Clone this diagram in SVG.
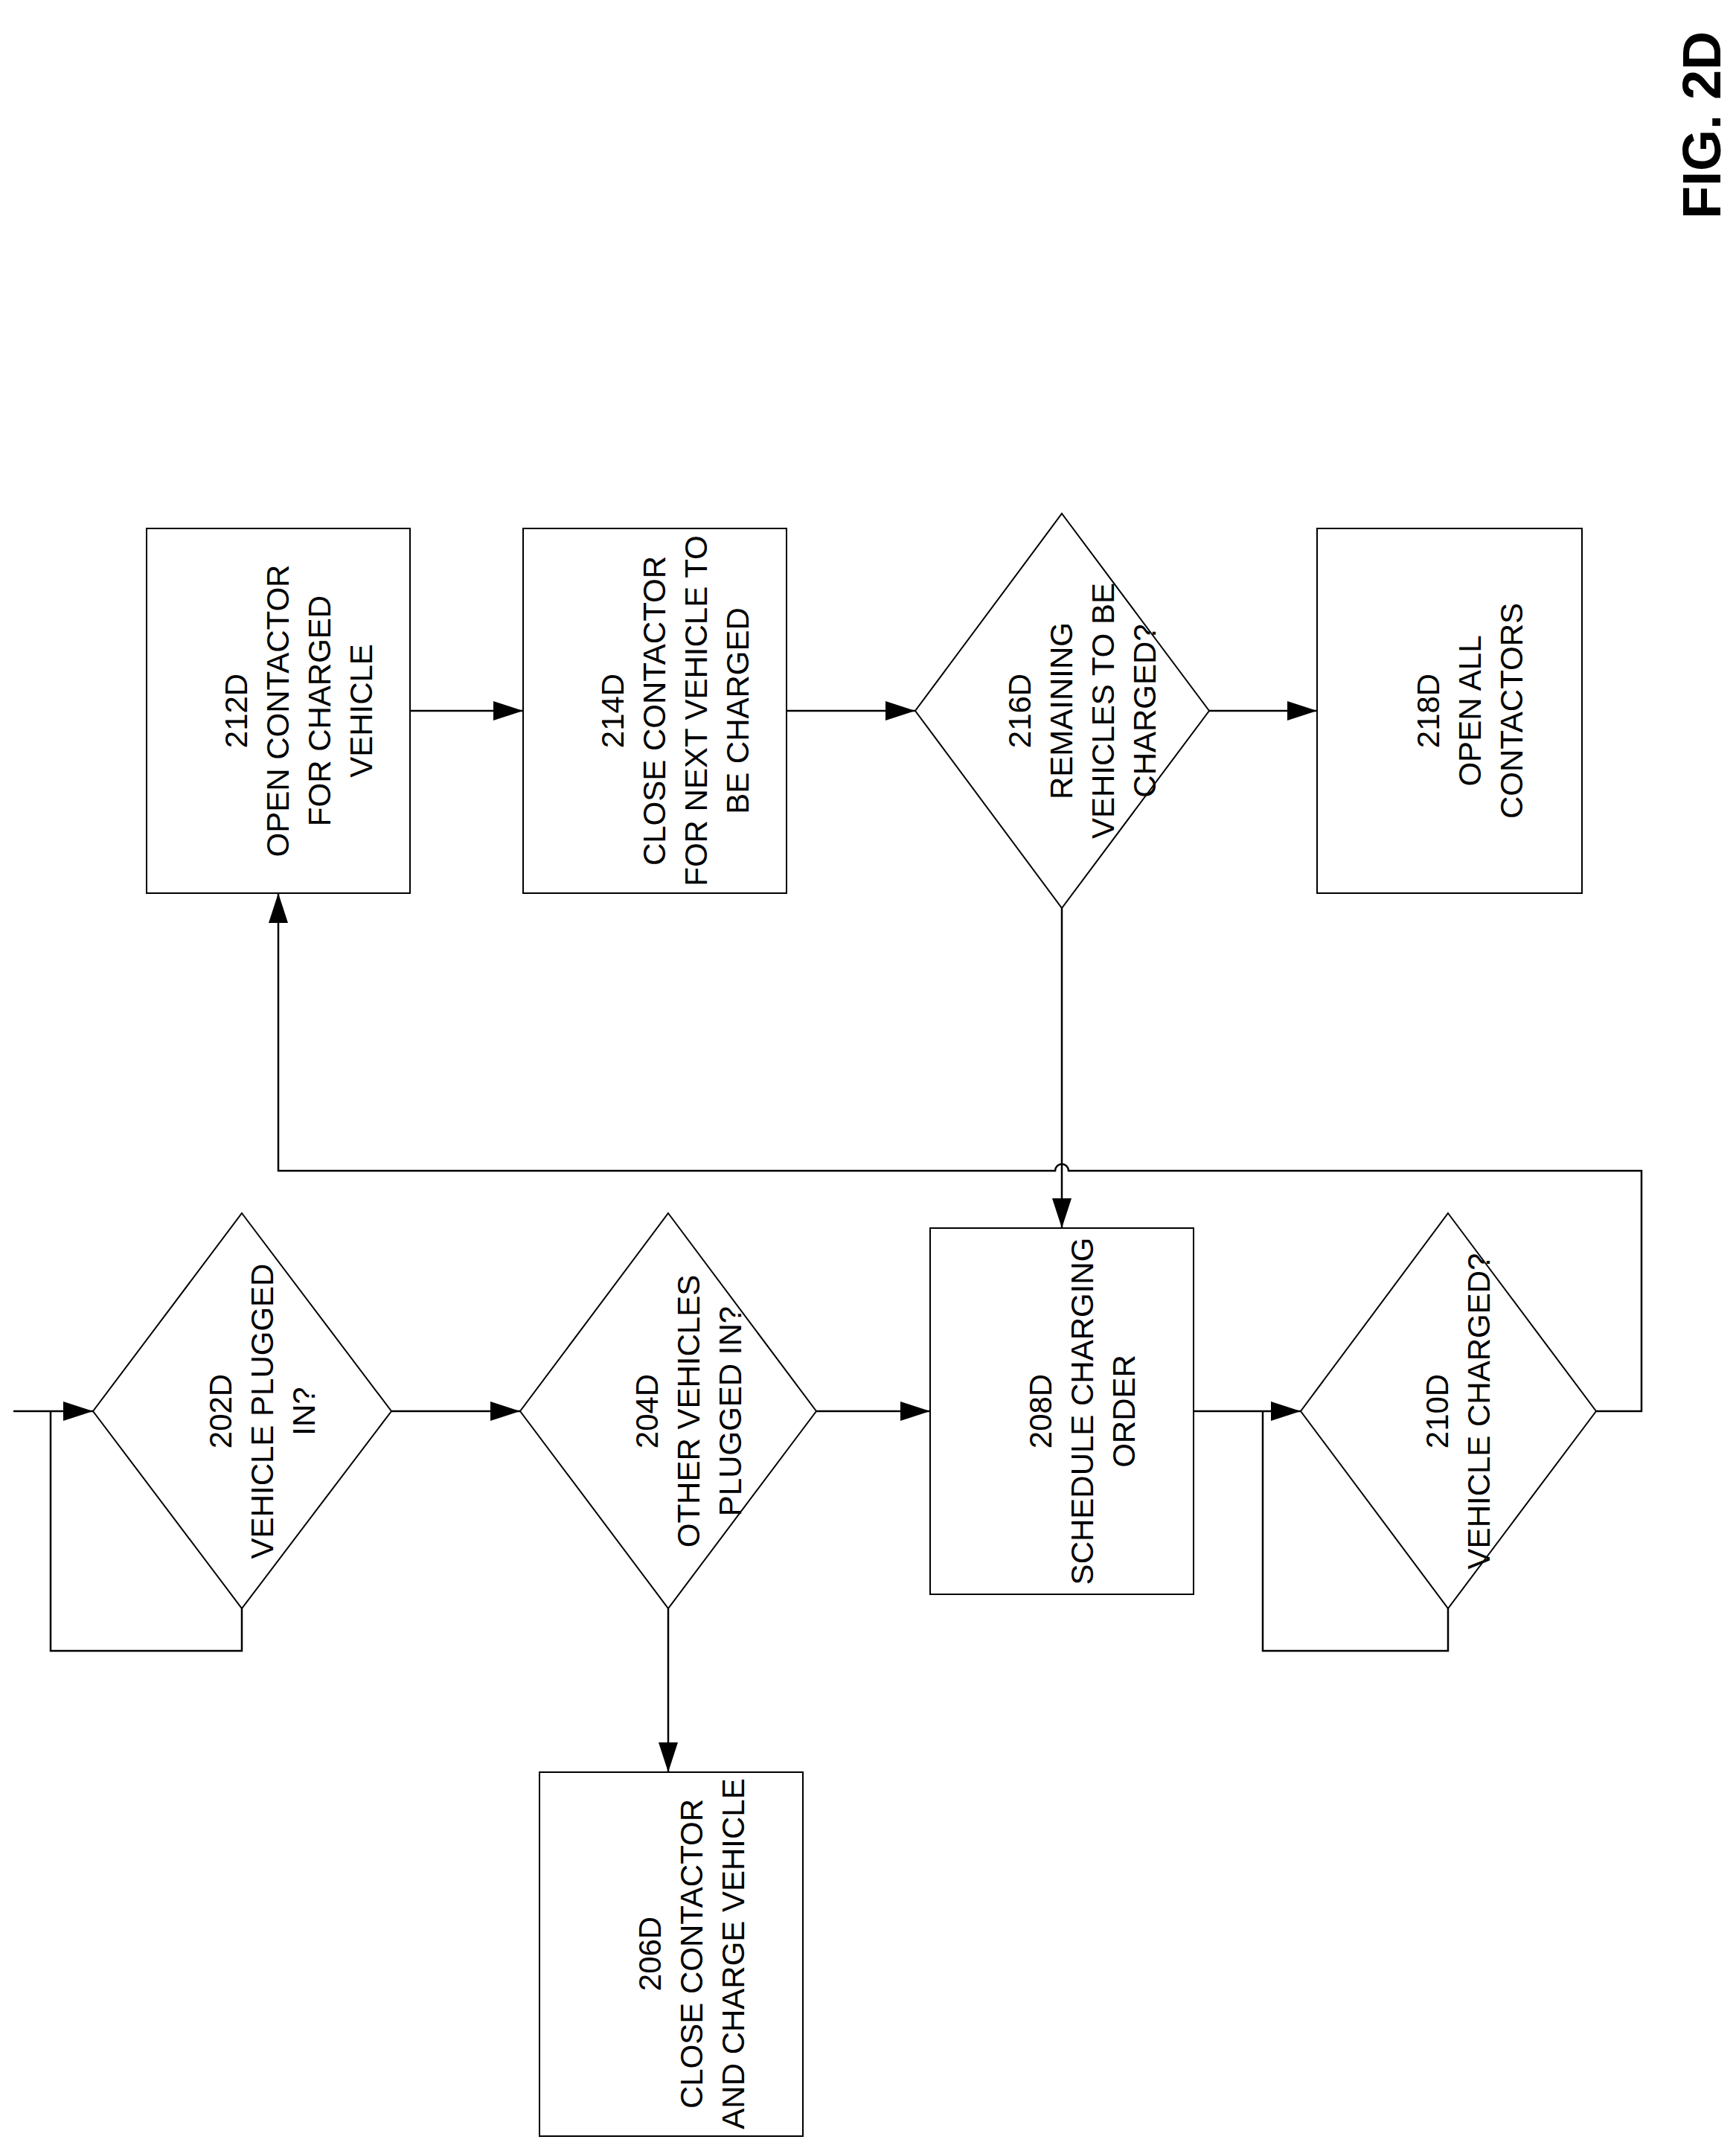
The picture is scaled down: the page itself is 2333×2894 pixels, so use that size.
<svg xmlns="http://www.w3.org/2000/svg" width="2333" height="2894" viewBox="0 0 2333 2894">
<style>
.s{fill:none;stroke:#000;stroke-width:2}
.c{fill:none;stroke:#000;stroke-width:2.5}
text{font-family:"Liberation Sans",Arial,sans-serif;font-size:42px;text-anchor:middle;fill:#000}
.f{font-size:72px;font-weight:bold}
</style>
<defs><marker id="a" markerWidth="12" markerHeight="10" refX="12" refY="5" orient="auto" markerUnits="userSpaceOnUse" viewBox="0 0 12 10"><path d="M0,0L12,5L0,10z" fill="#000" transform="scale(1)"/></marker>
<marker id="b" markerWidth="40" markerHeight="26" refX="40" refY="13" orient="auto" markerUnits="userSpaceOnUse"><path d="M0,0L40,13L0,26z" fill="#000"/></marker></defs>
<rect width="2333" height="2894" fill="#fff"/>
<g id="connectors">
<path class="c" d="M18,1896H125" marker-end="url(#b)"/>
<path class="c" d="M325,2161V2218H68V1896"/>
<path class="c" d="M526,1896H699" marker-end="url(#b)"/>
<path class="c" d="M898,2161V2381" marker-end="url(#b)"/>
<path class="c" d="M1097,1896H1250" marker-end="url(#b)"/>
<path class="c" d="M1604,1896H1748" marker-end="url(#b)"/>
<path class="c" d="M1946,2161V2218H1697V1896"/>
<path class="c" d="M2145,1896H2206V1573H1436A9,9 0 0 0 1418,1573H374V1200" marker-end="url(#b)"/>
<path class="c" d="M551,955H703" marker-end="url(#b)"/>
<path class="c" d="M1057,955H1230" marker-end="url(#b)"/>
<path class="c" d="M1625,955H1770" marker-end="url(#b)"/>
<path class="c" d="M1427,1220V1650" marker-end="url(#b)"/>
</g>
<g id="n212"><rect class="s" x="197" y="710" width="354" height="490"/><g transform="translate(374,955) rotate(-90)"><text y="-42">212D</text><text y="14">OPEN CONTACTOR</text><text y="70">FOR CHARGED</text><text y="126">VEHICLE</text></g></g>
<g id="n214"><rect class="s" x="703" y="710" width="354" height="490"/><g transform="translate(880,955) rotate(-90)"><text y="-42">214D</text><text y="14">CLOSE CONTACTOR</text><text y="70">FOR NEXT VEHICLE TO</text><text y="126">BE CHARGED</text></g></g>
<g id="n216"><path class="s" d="M1427,690L1625,955L1427,1220L1230,955Z"/><g transform="translate(1427,955) rotate(-90)"><text y="-42">216D</text><text y="14">REMAINING</text><text y="70">VEHICLES TO BE</text><text y="126">CHARGED?</text></g></g>
<g id="n218"><rect class="s" x="1770" y="710" width="356" height="490"/><g transform="translate(1948,955) rotate(-90)"><text y="-14">218D</text><text y="42">OPEN ALL</text><text y="98">CONTACTORS</text></g></g>
<g id="n202"><path class="s" d="M325,1630L526,1896L325,2161L125,1896Z"/><g transform="translate(325,1896) rotate(-90)"><text y="-14">202D</text><text y="42">VEHICLE PLUGGED</text><text y="98">IN?</text></g></g>
<g id="n204"><path class="s" d="M898,1630L1097,1896L898,2161L699,1896Z"/><g transform="translate(898,1896) rotate(-90)"><text y="-14">204D</text><text y="42">OTHER VEHICLES</text><text y="98">PLUGGED IN?</text></g></g>
<g id="n208"><rect class="s" x="1250" y="1650" width="354" height="492"/><g transform="translate(1427,1896) rotate(-90)"><text y="-14">208D</text><text y="42">SCHEDULE CHARGING</text><text y="98">ORDER</text></g></g>
<g id="n210"><path class="s" d="M1946,1630L2145,1896L1946,2161L1748,1896Z"/><g transform="translate(1946,1896) rotate(-90)"><text y="0">210D</text><text y="56">VEHICLE CHARGED?</text></g></g>
<g id="n206"><rect class="s" x="725" y="2381" width="354" height="489"/><g transform="translate(902,2625) rotate(-90)"><text y="-14">206D</text><text y="42">CLOSE CONTACTOR</text><text y="98">AND CHARGE VEHICLE</text></g></g>
<text class="f" transform="translate(2312,168) rotate(-90)">FIG. 2D</text>
</svg>
